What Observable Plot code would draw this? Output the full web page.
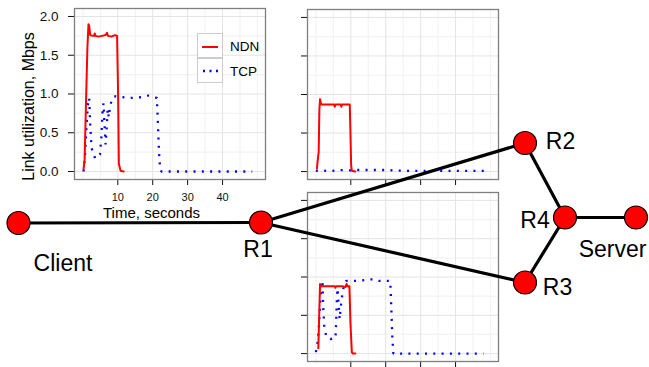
<!DOCTYPE html>
<html><head><meta charset="utf-8">
<script src="https://cdn.jsdelivr.net/npm/d3@7"></script>
<script src="https://cdn.jsdelivr.net/npm/@observablehq/plot@0.6"></script>
<style>
html,body{margin:0;padding:0;background:#fff;}
#fig{position:relative;width:649px;height:367px;overflow:hidden;background:#fff;font-family:"Liberation Sans",Arial,Helvetica,sans-serif;}
#fig > *{position:absolute;}
</style></head><body><div id="fig"></div>
<script>
// ---------- data: link utilization (Mbps) vs time (s) ----------
// Panel 1: Client–R1 link
const ndn1T = [0.2, 0.5, 0.9, 1.3, 1.6, 1.8, 2.1, 2.8, 3.2, 3.4, 3.6, 4.5, 5.5, 6.5, 6.9, 7.2, 8.2, 9.2, 9.8, 10.1, 10.3, 10.8, 11.7];
const ndn1V = [0.03, 0.15, 0.9, 1.6, 1.9, 1.88, 1.76, 1.75, 1.75, 1.78, 1.75, 1.74, 1.75, 1.76, 1.79, 1.75, 1.74, 1.76, 1.75, 0.95, 0.1, 0.01, 0.0];
const tcp1T = [0.2, 0.6, 1.0, 1.4, 1.8, 2.1, 2.5, 2.9, 3.5, 4.2, 4.9, 5.3, 5.6, 5.9, 6.2, 6.5, 6.8, 7.1, 7.4, 7.8, 8.3, 8.9, 9.5, 11, 13, 15, 17, 18.6, 20, 21.2, 21.5, 21.8, 22.1, 22.5, 25, 30, 35, 40, 45, 48.5];
const tcp1V = [0.0, 0.2, 0.55, 0.85, 0.95, 0.6, 0.3, 0.25, 0.17, 0.18, 0.22, 0.45, 0.75, 0.88, 0.6, 0.35, 0.55, 0.8, 0.7, 0.85, 0.92, 0.97, 0.97, 0.96, 0.95, 0.95, 0.96, 0.98, 0.96, 0.95, 0.6, 0.25, 0.05, 0, 0, 0, 0, 0, 0, 0];
// Panel 2: R1–R2 link
const ndn2T = [0.3, 0.65, 0.8, 1.0, 1.2, 1.4, 1.6, 3, 5.2, 5.4, 5.6, 7.1, 7.3, 7.5, 9.7, 9.9, 10.1, 10.3, 11.3];
const ndn2V = [0.04, 0.2, 0.25, 0.8, 0.94, 0.9, 0.87, 0.87, 0.87, 0.84, 0.87, 0.87, 0.84, 0.87, 0.87, 0.5, 0.08, 0.01, 0.0];
const tcp2T = [0, 2, 4, 6, 8, 10, 12, 15, 20, 25, 30, 35, 40, 45, 48.6];
const tcp2V = [0.01, 0.015, 0.005, 0.015, 0.02, 0.015, 0.02, 0.02, 0.02, 0.01, 0.01, 0.01, 0.01, 0.01, 0.01];
// Panel 3: R1–R3 link
const ndn3T = [0.7, 0.95, 1.2, 1.5, 3, 5.4, 5.6, 5.8, 7.5, 8.5, 8.8, 9.0, 9.6, 9.9, 10.3, 10.6, 11.3];
const ndn3V = [0.07, 0.5, 0.91, 0.88, 0.88, 0.88, 0.86, 0.88, 0.88, 0.87, 0.91, 0.88, 0.88, 0.4, 0.02, 0.0, 0.0];
const tcp3T = [0, 0.5, 0.8, 1.1, 1.4, 1.7, 1.9, 2.1, 2.4, 3.0, 4.2, 4.9, 5.6, 5.8, 6.0, 6.2, 6.5, 6.8, 7.1, 7.5, 8.0, 8.7, 10, 12, 14, 15, 16.5, 18, 20, 21.3, 21.6, 21.9, 22.2, 25, 30, 35, 40, 45, 48];
const tcp3V = [0.02, 0.15, 0.3, 0.55, 0.8, 0.95, 0.95, 0.6, 0.35, 0.22, 0.19, 0.2, 0.2, 0.4, 0.7, 0.85, 0.65, 0.45, 0.6, 0.75, 0.88, 0.95, 0.95, 0.95, 0.96, 0.97, 0.97, 0.95, 0.95, 0.95, 0.6, 0.2, 0.0, 0, 0, 0, 0, 0, 0];
// ticks
const xTicks = [10, 20, 30, 40];
const xMinorTicks = [0, 5, 15, 25, 35, 45, 50];
const yTicks = [0, 0.5, 1, 1.5, 2];
const yMinorTicks = [0.25, 0.75, 1.25, 1.75];
const seriesNames = ["NDN", "TCP"];
// network topology
const nodeNames = ["Client", "R1", "R2", "R3", "R4", "Server"];
const nodeX = [18, 260.5, 524.5, 524.5, 564.5, 635.5];
const nodeY = [222.5, 222, 142.5, 282, 217, 217];
const edgeFrom = ["Client", "R1", "R1", "R2", "R3", "R4"];
const edgeTo   = ["R1", "R2", "R3", "R4", "R4", "Server"];

// ---------- drawing ----------
const FONT = '"Liberation Sans", Arial, Helvetica, sans-serif';
const fig = document.getElementById("fig");
const xDomain = [-2.4, 52.3];
const yDomain = [-0.103, 2.103];
const rows = (T, V) => T.map((t, i) => ({t, v: V[i]}));
const DOTS = "2,6.3";

function panel(o) {
  const marks = [
    Plot.ruleX(xMinorTicks, {x: d => d, stroke: "#f3f3f3", strokeWidth: 1.2}),
    Plot.ruleY(yMinorTicks, {y: d => d, stroke: "#f3f3f3", strokeWidth: 1.2}),
    Plot.ruleX(xTicks, {x: d => d, stroke: "#e4e4e4", strokeWidth: 1}),
    Plot.ruleY(yTicks, {y: d => d, stroke: "#e4e4e4", strokeWidth: 1}),
    Plot.line(rows(o.tcpT, o.tcpV), {x: "t", y: "v", stroke: "#0000ff", strokeWidth: 2.3, strokeDasharray: DOTS, strokeLinecap: "butt", strokeLinejoin: "miter"}),
    Plot.line(rows(o.ndnT, o.ndnV), {x: "t", y: "v", stroke: "#ff0000", strokeWidth: 2}),
    Plot.frame({stroke: "#7f7f7f", strokeWidth: 1.3}),
    ...(o.extra || [])
  ];
  const svg = Plot.plot({
    width: o.width, height: o.height,
    marginLeft: o.ml, marginRight: o.mr, marginTop: o.mt, marginBottom: o.mb,
    x: {domain: xDomain, ticks: xTicks, tickSize: 6, tickPadding: 2, tickFormat: () => "", label: null},
    y: {domain: yDomain, ticks: yTicks, tickSize: 6, tickPadding: 2, tickFormat: () => "", label: null},
    style: {background: "transparent", fontFamily: FONT, overflow: "visible", color: "#111"},
    marks
  });
  svg.style.left = o.left + "px";
  svg.style.top = o.top + "px";
  svg.style.maxWidth = "none";
  fig.appendChild(svg);
}

panel({
  ndnT: ndn1T, ndnV: ndn1V, tcpT: tcp1T, tcpV: tcp1V,
  left: 0, top: 0, width: 280, height: 225, ml: 74, mr: 15, mt: 8, mb: 46,
  extra: [
    Plot.text(xTicks, {x: d => d, text: d => String(d), frameAnchor: "bottom", lineAnchor: "top", dy: 14, fontSize: 11, fill: "#111"}),
    Plot.text(yTicks, {y: d => d, text: d => d.toFixed(1), frameAnchor: "left", textAnchor: "end", lineAnchor: "middle", dx: -16, fontSize: 13.5, fill: "#111"}),
    Plot.text(["Time, seconds"], {text: d => d, frameAnchor: "bottom", textAnchor: "middle", lineAnchor: "middle", dy: 34, dx: -18.5, fontSize: 15, fill: "#000"}),
    Plot.text(["Link utilization, Mbps"], {text: d => d, frameAnchor: "left", textAnchor: "middle", lineAnchor: "middle", rotate: -90, dx: -46, dy: 12.5, fontSize: 16, fill: "#000"})
  ]
});
panel({
  ndnT: ndn2T, ndnV: ndn2V, tcpT: tcp2T, tcpV: tcp2V,
  left: 280, top: 0, width: 230, height: 195, ml: 27, mr: 12, mt: 9, mb: 16
});
panel({
  ndnT: ndn3T, ndnV: ndn3V, tcpT: tcp3T, tcpV: tcp3V,
  left: 280, top: 185, width: 230, height: 182, ml: 27, mr: 12, mt: 7, mb: 6
});

// legend (inside panel 1)
const legend = document.createElement("div");
legend.style.left = "197px"; legend.style.top = "33px";
legend.innerHTML = seriesNames.map((name, i) => `
  <div style="position:absolute;left:0;top:${i * 25}px;width:26px;height:25px;border:1px solid #cccccc;background:#fff;box-sizing:border-box;">
    <svg width="26" height="25" style="position:absolute;left:-1px;top:-1px">
      ${i === 0
        ? '<line x1="5" x2="21" y1="14" y2="14" stroke="#ff0000" stroke-width="2"/>'
        : '<line x1="6" x2="22" y1="13" y2="13" stroke="#0000ff" stroke-width="2.3" stroke-dasharray="2,4.5"/>'}
    </svg>
  </div>
  <div style="position:absolute;left:33px;top:${i * 25 + 6}px;font-size:13.5px;line-height:16px;white-space:nowrap;color:#000;font-family:${FONT.replace(/"/g, "'")}">${name}</div>`).join("");
fig.appendChild(legend);

// network overlay
const nodes = nodeNames.map((name, i) => ({name, x: nodeX[i], y: nodeY[i]}));
const byName = Object.fromEntries(nodes.map(d => [d.name, d]));
const edges = edgeFrom.map((f, i) => ({a: byName[f], b: byName[edgeTo[i]]}));
const labelOffset = {
  Client: [44.5, 40.3], R1: [-3, 26.8], R2: [35.5, -1.7],
  R3: [32.5, 4.8], R4: [-30, 2.8], Server: [-23.5, 31.8]
};
const net = Plot.plot({
  width: 649, height: 367, margin: 0,
  x: {domain: [0, 649], range: [0, 649], axis: null},
  y: {domain: [0, 367], range: [0, 367], axis: null},
  style: {background: "transparent", fontFamily: FONT, overflow: "visible"},
  marks: [
    Plot.link(edges, {x1: d => d.a.x, y1: d => d.a.y, x2: d => d.b.x, y2: d => d.b.y, stroke: "#000", strokeWidth: 3.2}),
    Plot.dot(nodes, {x: "x", y: "y", r: 11.5, fill: "#ff0000", stroke: "#000", strokeWidth: 1.2}),
    ...nodes.map(n => Plot.text([n], {x: "x", y: "y", text: "name", textAnchor: "middle", lineAnchor: "middle", dx: labelOffset[n.name][0], dy: labelOffset[n.name][1], fontSize: 23, fill: "#000"}))
  ]
});
net.style.left = "0px"; net.style.top = "0px"; net.style.maxWidth = "none";
net.style.pointerEvents = "none";
fig.appendChild(net);
</script></body></html>
